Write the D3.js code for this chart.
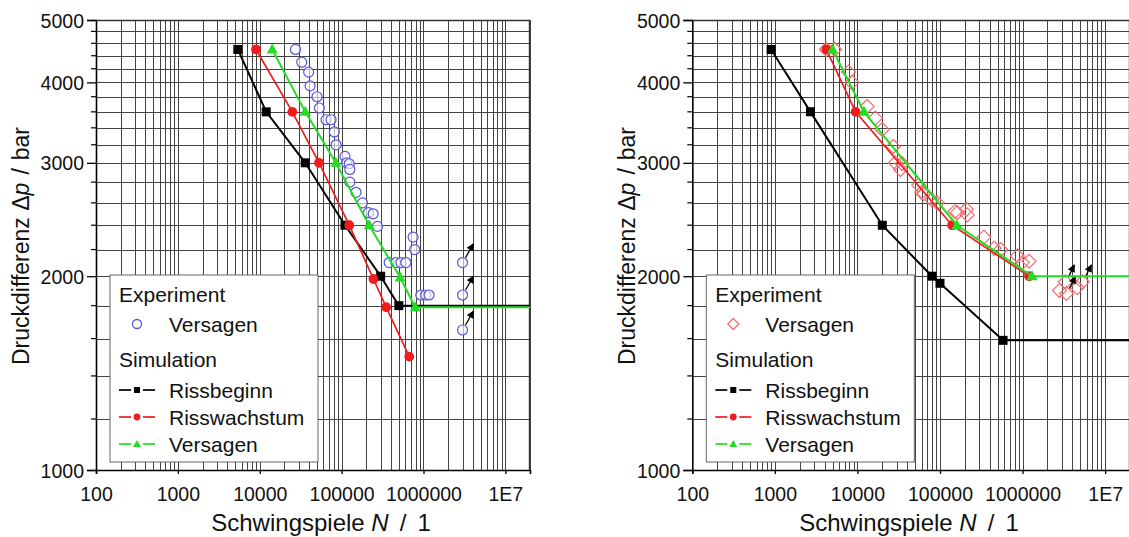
<!DOCTYPE html>
<html>
<head>
<meta charset="utf-8">
<script src="https://cdn.jsdelivr.net/npm/d3@7"></script>
<style>
  body { margin: 0; background: #fff; }
  svg { display: block; font-family: "Liberation Sans", Arial, sans-serif; }
</style>
</head>
<body>
<svg id="chart" width="1129" height="537"></svg>
<script>
// axis setup shared by both panels
const X_DOMAIN = [100, 2e7];
const Y_DOMAIN = [1000, 5000];
const xTickValues = [100, 1000, 10000, 100000, 1000000, 10000000];
const xTickLabels = ["100", "1000", "10000", "100000", "1000000", "1E7"];
const yTickValues = [1000, 2000, 3000, 4000, 5000];
const yTickLabels = ["1000", "2000", "3000", "4000", "5000"];

// left panel  [N, dp]
const leftRissbeginn = [[5400, 4500], [12000, 3600], [36000, 3000], [110000, 2400], [300000, 2000], [500000, 1800]];
const leftRisswachstum = [[9000, 4500], [25000, 3600], [53000, 3000], [124000, 2400], [245000, 1980], [350000, 1790], [670000, 1500]];
const leftVersagen = [[14200, 4500], [36000, 3600], [85000, 3000], [217000, 2400], [520000, 1990], [790000, 1790]];
const leftExperiment = [
  [27300, 4500], [32600, 4300], [39600, 4150], [41200, 3950], [50100, 3800], [53500, 3650],
  [64600, 3500], [74300, 3500], [81500, 3350], [85500, 3200], [110000, 3070], [115000, 3000],
  [124000, 2990], [126000, 2930], [126000, 2800], [150000, 2700], [180000, 2600], [213000, 2510],
  [243000, 2500], [274000, 2390], [746000, 2300], [783000, 2200], [381000, 2100], [460000, 2100],
  [530000, 2100], [609000, 2100], [927000, 1870], [1067000, 1870], [1170000, 1870]
];
const leftRunouts = [[3000000, 2100], [3000000, 1870], [3000000, 1650]];

// right panel  [N, dp]
const rightRissbeginn = [[900, 4500], [2700, 3600], [20000, 2400], [80000, 2000], [100000, 1950], [580000, 1590]];
const rightRisswachstum = [[4200, 4500], [9500, 3600], [140000, 2400], [1200000, 2000]];
const rightVersagen = [[5000, 4500], [12000, 3600], [160000, 2400], [1300000, 2000]];
const rightExperiment = [
  [4200, 4500], [5300, 4500], [7800, 4150], [8600, 4000], [13100, 3670], [16500, 3520],
  [19900, 3380], [27200, 3180], [28800, 3000], [33200, 2930], [34800, 2990], [55300, 2770],
  [60000, 2700], [63700, 2690], [79300, 2630], [92500, 2600], [152000, 2520], [162000, 2510],
  [209000, 2540], [214000, 2490], [340000, 2300], [453000, 2210], [542000, 2200], [865000, 2150],
  [995000, 2100], [1200000, 2110]
];
const rightExtraDiamonds = [[2800000, 1900], [4600000, 1920]];
const rightRunouts = [[3300000, 1960], [5300000, 1960], [3400000, 1880]];

const BLACK = "#000";
const RED = "#f01c1c";
const GREEN = "#22dd22";
const BLUE = "#5656d8";
const PINK = "#f07070";

const svg = d3.select("#chart");
svg.append("rect").attr("width", 1129).attr("height", 537).attr("fill", "#fff");

const defs = svg.append("defs");
defs.append("marker")
  .attr("id", "arrow")
  .attr("viewBox", "0 0 10 10")
  .attr("refX", 9).attr("refY", 5)
  .attr("markerWidth", 6.5).attr("markerHeight", 6)
  .attr("orient", "auto")
  .append("path")
  .attr("d", "M0,0 L10,5 L0,10 z")
  .attr("fill", "#000");

const drawPanel = (cfg) => {
  const x = d3.scaleLog().domain(X_DOMAIN).range([cfg.x0, cfg.x1]);
  const y = d3.scaleLog().domain(Y_DOMAIN).range([470, 20]);
  const g = svg.append("g");

  defs.append("clipPath").attr("id", cfg.id)
    .append("rect").attr("x", cfg.x0).attr("y", 19).attr("width", cfg.x1 - cfg.x0).attr("height", 452);

  // grid
  const xGrid = [];
  for (let k = 2; k <= 7; k++) {
    for (let m = 1; m <= 9; m++) {
      const v = m * Math.pow(10, k);
      if (v > X_DOMAIN[0] && v <= X_DOMAIN[1]) xGrid.push(v);
    }
  }
  const yGrid = d3.range(1200, 5001, 200);

  g.append("g").selectAll("line").data(xGrid).join("line")
    .attr("x1", d => Math.round(x(d)) + 0.5).attr("x2", d => Math.round(x(d)) + 0.5)
    .attr("y1", 20).attr("y2", 470)
    .attr("stroke", "#444").attr("stroke-width", 1);
  g.append("g").selectAll("line").data(yGrid).join("line")
    .attr("x1", cfg.x0).attr("x2", cfg.x1)
    .attr("y1", d => Math.round(y(d)) + 0.5).attr("y2", d => Math.round(y(d)) + 0.5)
    .attr("stroke", "#444").attr("stroke-width", 1);

  // axes
  const xAxis = d3.axisBottom(x).tickValues(xTickValues).tickFormat((d, i) => xTickLabels[i]).tickSize(4).tickPadding(13);
  const yAxis = d3.axisLeft(y).tickValues(yTickValues).tickFormat((d, i) => yTickLabels[i]).tickSize(9).tickPadding(3);

  const ax = g.append("g").attr("transform", "translate(0,470)").call(xAxis);
  const ay = g.append("g").attr("transform", `translate(${cfg.x0},0)`).call(yAxis);
  [ax, ay].forEach(a => {
    a.select(".domain").attr("stroke", "#000").attr("stroke-width", 1.6);
    a.selectAll(".tick line").attr("stroke", "#000").attr("stroke-width", 1.3);
    a.selectAll(".tick text").attr("font-size", 19.5).attr("fill", "#111").attr("font-family", "Liberation Sans, Arial, sans-serif");
  });
  ax.selectAll(".tick text").attr("dy", "0.71em");
  ay.selectAll(".tick text").attr("dy", "0.36em");

  // minor y ticks
  g.append("g").selectAll("line").data(yGrid.filter(d => d % 1000 !== 0)).join("line")
    .attr("x1", cfg.x0 - 5).attr("x2", cfg.x0)
    .attr("y1", d => y(d)).attr("y2", d => y(d))
    .attr("stroke", "#000").attr("stroke-width", 1.2);

  // frame top / right
  g.append("line").attr("x1", cfg.x0).attr("x2", cfg.x1).attr("y1", 20.5).attr("y2", 20.5)
    .attr("stroke", "#333").attr("stroke-width", 1.4);
  g.append("line").attr("x1", cfg.x1 - 0.5).attr("x2", cfg.x1 - 0.5).attr("y1", 20).attr("y2", 470)
    .attr("stroke", "#333").attr("stroke-width", 1.4);

  // axis titles
  const xt = g.append("text")
    .attr("x", cfg.xTitle).attr("y", 531)
    .attr("text-anchor", "middle").attr("font-size", 24).attr("fill", "#111");
  xt.append("tspan").text("Schwingspiele ");
  xt.append("tspan").attr("font-style", "italic").text("N");
  xt.append("tspan").attr("dx", 11).text("/");
  xt.append("tspan").attr("dx", 11).text("1");

  const yt = g.append("text")
    .attr("transform", `translate(${cfg.yTitleX},246) rotate(-90)`)
    .attr("text-anchor", "middle").attr("font-size", 23).attr("fill", "#111");
  yt.append("tspan").text("Druckdifferenz Δ");
  yt.append("tspan").attr("font-style", "italic").text("p");
  yt.append("tspan").attr("dx", 8).text("/");
  yt.append("tspan").attr("dx", 8).text("bar");

  // data layer
  const plot = g.append("g").attr("clip-path", `url(#${cfg.id})`);
  const line = d3.line().x(d => x(d[0])).y(d => y(d[1]));

  const circleSym = d3.symbol().type(d3.symbolCircle);
  const diamondPath = s => `M0,${-s} L${s},0 L0,${s} L${-s},0 Z`;

  // experiments
  if (cfg.expShape === "circle") {
    plot.append("g").selectAll("circle").data(cfg.experiment.concat(cfg.runouts)).join("circle")
      .attr("cx", d => x(d[0])).attr("cy", d => y(d[1])).attr("r", 5)
      .attr("fill", "#fff").attr("fill-opacity", 0.6)
      .attr("stroke", BLUE).attr("stroke-width", 1.2);
  } else {
    plot.append("g").selectAll("path").data(cfg.experiment.concat(cfg.extra, cfg.runouts)).join("path")
      .attr("transform", d => `translate(${x(d[0])},${y(d[1])})`)
      .attr("d", diamondPath(7))
      .attr("fill", "none")
      .attr("stroke", PINK).attr("stroke-width", 1.2);
  }

  // run-out arrows
  plot.append("g").selectAll("line").data(cfg.runouts).join("line")
    .attr("x1", d => x(d[0]) + 3).attr("y1", d => y(d[1]) - 5)
    .attr("x2", d => x(d[0]) + cfg.arrow[0]).attr("y2", d => y(d[1]) + cfg.arrow[1])
    .attr("stroke", "#000").attr("stroke-width", 1.3)
    .attr("marker-end", "url(#arrow)");

  // simulation series
  cfg.series.forEach(s => {
    const pts = s.extend ? s.data.concat([[X_DOMAIN[1], s.data[s.data.length - 1][1]]]) : s.data;
    plot.append("path").datum(pts)
      .attr("d", line).attr("fill", "none")
      .attr("stroke", s.color).attr("stroke-width", s.extend ? 2 : 1.7);

    const m = plot.append("g").selectAll("path").data(s.data).join("path")
      .attr("transform", d => `translate(${x(d[0])},${y(d[1])})`)
      .attr("fill", s.color);
    if (s.shape === "square") m.attr("d", "M-4.5,-4.5 h9 v9 h-9 z");
    if (s.shape === "circle") m.attr("d", circleSym.size(75)());
    if (s.shape === "triangle") m.attr("d", "M0,-6 L5.5,4 L-5.5,4 Z");
  });

  // legend
  const L = cfg.x0 + 14;
  const lg = g.append("g");
  lg.append("rect").attr("x", L).attr("y", 275).attr("width", 208).attr("height", 187)
    .attr("fill", "#fff").attr("stroke", "#666").attr("stroke-width", 1);

  const rowY = [294, 324, 359, 390, 417, 444];
  const FS = 21;
  lg.append("text").attr("x", L + 9).attr("y", rowY[0]).attr("dy", "0.36em")
    .attr("font-size", FS).attr("fill", "#111").text("Experiment");
  if (cfg.expShape === "circle") {
    lg.append("circle").attr("cx", L + 27).attr("cy", rowY[1]).attr("r", 4.5)
      .attr("fill", "none").attr("stroke", BLUE).attr("stroke-width", 1.3);
  } else {
    lg.append("path").attr("transform", `translate(${L + 27},${rowY[1]})`).attr("d", diamondPath(5.5))
      .attr("fill", "none").attr("stroke", PINK).attr("stroke-width", 1.3);
  }
  lg.append("text").attr("x", L + 59).attr("y", rowY[1]).attr("dy", "0.36em")
    .attr("font-size", FS).attr("fill", "#111").text("Versagen");
  lg.append("text").attr("x", L + 9).attr("y", rowY[2]).attr("dy", "0.36em")
    .attr("font-size", FS).attr("fill", "#111").text("Simulation");

  cfg.series.forEach((s, i) => {
    const yy = rowY[3 + i];
    lg.append("line").attr("x1", L + 9).attr("x2", L + 21).attr("y1", yy).attr("y2", yy)
      .attr("stroke", s.color).attr("stroke-width", 1.7);
    lg.append("line").attr("x1", L + 33).attr("x2", L + 45).attr("y1", yy).attr("y2", yy)
      .attr("stroke", s.color).attr("stroke-width", 1.7);
    const mk = lg.append("path").attr("transform", `translate(${L + 27},${yy})`).attr("fill", s.color);
    if (s.shape === "square") mk.attr("d", "M-3,-3 h6 v6 h-6 z");
    if (s.shape === "circle") mk.attr("d", circleSym.size(36)());
    if (s.shape === "triangle") mk.attr("d", "M0,-4 L4,3 L-4,3 Z");
    lg.append("text").attr("x", L + 59).attr("y", yy).attr("dy", "0.36em")
      .attr("font-size", FS).attr("fill", "#111").text(s.name);
  });
};

drawPanel({
  id: "clipL", x0: 96, x1: 530, xTitle: 321, yTitleX: 28.5,
  expShape: "circle", experiment: leftExperiment, runouts: leftRunouts, extra: [],
  arrow: [11, -19],
  series: [
    { name: "Rissbeginn", data: leftRissbeginn, color: BLACK, shape: "square", extend: true },
    { name: "Risswachstum", data: leftRisswachstum, color: RED, shape: "circle", extend: false },
    { name: "Versagen", data: leftVersagen, color: GREEN, shape: "triangle", extend: true }
  ]
});

drawPanel({
  id: "clipR", x0: 692.3, x1: 1130, xTitle: 909, yTitleX: 634.5,
  expShape: "diamond", experiment: rightExperiment, runouts: rightRunouts, extra: rightExtraDiamonds,
  arrow: [9, -17],
  series: [
    { name: "Rissbeginn", data: rightRissbeginn, color: BLACK, shape: "square", extend: true },
    { name: "Risswachstum", data: rightRisswachstum, color: RED, shape: "circle", extend: false },
    { name: "Versagen", data: rightVersagen, color: GREEN, shape: "triangle", extend: true }
  ]
});
</script>
</body>
</html>
